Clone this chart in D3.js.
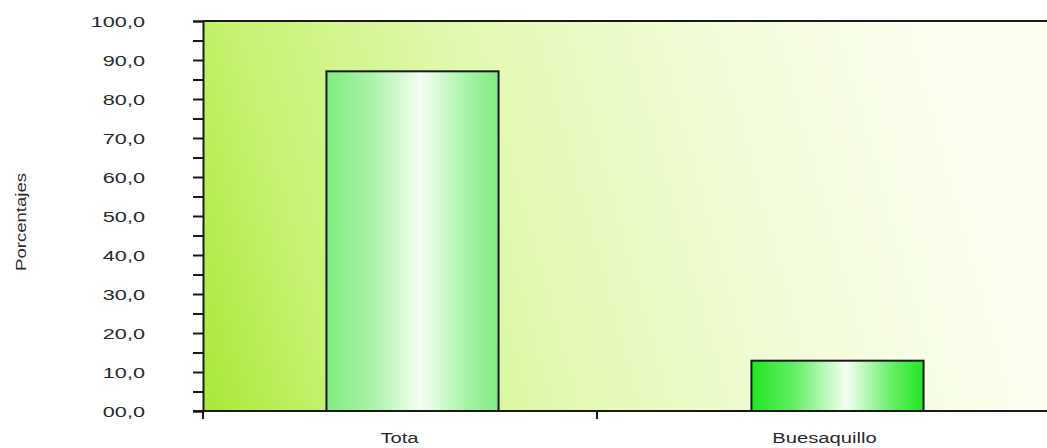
<!DOCTYPE html>
<html>
<head>
<meta charset="utf-8">
<script src="https://cdn.jsdelivr.net/npm/d3@7"></script>
<style>
  body { margin: 0; background: #fff; }
  text { font-family: "Liberation Sans", Arial, sans-serif; fill: #2a2a2a; }
</style>
</head>
<body>
<svg id="chart" width="1047" height="448"></svg>
<script>

var categories = ["Tota", "Buesaquillo"];
var values = [87.1, 12.9];
var yTicks = [0, 10, 20, 30, 40, 50, 60, 70, 80, 90, 100];
var yAxisTitle = "Porcentajes";

var svg = d3.select("#chart");

var plotLeft = 203, plotTop = 21, plotBottom = 411, plotRight = 1050;

var y = d3.scaleLinear().domain([0, 100]).range([plotBottom, plotTop]);
var x = d3.scaleBand().domain(categories).range([200, plotRight]);

var defs = svg.append("defs");

// plot background: lime on the left fading to almost white
var bg = defs.append("linearGradient").attr("id", "bg")
	.attr("gradientUnits", "userSpaceOnUse")
	.attr("x1", plotLeft).attr("y1", 400)
	.attr("x2", 1000).attr("y2", 180);
bg.append("stop").attr("offset", "0%").attr("stop-color", "#aae838");
bg.append("stop").attr("offset", "15%").attr("stop-color", "#c6f270");
bg.append("stop").attr("offset", "42%").attr("stop-color", "#e2f9b2");
bg.append("stop").attr("offset", "72%").attr("stop-color", "#f3fcda");
bg.append("stop").attr("offset", "100%").attr("stop-color", "#fbfff2");

// one gradient per bar
var barColors = ["#80ec80", "#22e622"];
barColors.forEach(function (c, i) {
	var g = defs.append("linearGradient").attr("id", "bar" + i)
		.attr("x1", "0%").attr("x2", "100%").attr("y1", "0%").attr("y2", "0%");
	g.append("stop").attr("offset", "0%").attr("stop-color", c);
	g.append("stop").attr("offset", "25%").attr("stop-color", d3.interpolateRgb(c, "#fff")(0.3));
	g.append("stop").attr("offset", "55%").attr("stop-color", "#f4fff2");
	g.append("stop").attr("offset", "82%").attr("stop-color", d3.interpolateRgb(c, "#fff")(0.3));
	g.append("stop").attr("offset", "100%").attr("stop-color", c);
});

svg.append("rect")
	.attr("x", plotLeft).attr("y", plotTop)
	.attr("width", 1047 - plotLeft).attr("height", plotBottom - plotTop)
	.attr("fill", "url(#bg)");

// bars
var barW = x.bandwidth() * 0.405;

svg.selectAll(".bar")
	.data(values)
	.enter().append("rect")
	.attr("class", "bar")
	.attr("x", function (d, i) { return x(categories[i]) + x.bandwidth() / 2 - barW / 2; })
	.attr("y", function (d) { return y(d); })
	.attr("width", barW)
	.attr("height", function (d) { return plotBottom - y(d); })
	.attr("fill", function (d, i) { return "url(#bar" + i + ")"; })
	.attr("stroke", "#1a1a1a")
	.attr("stroke-width", 2);

// top border
svg.append("line")
	.attr("x1", plotLeft).attr("x2", 1047)
	.attr("y1", plotTop).attr("y2", plotTop)
	.attr("stroke", "#1a1a1a").attr("stroke-width", 2);

// y axis
var yAxis = d3.axisLeft(y)
	.tickValues(d3.range(0, 101, 5))
	.tickSize(10)
	.tickFormat("");

var gy = svg.append("g").attr("transform", "translate(" + plotLeft + ",0)").call(yAxis);
gy.select(".domain").attr("stroke", "#1a1a1a").attr("stroke-width", 2);
gy.selectAll(".tick line").attr("stroke", "#1a1a1a").attr("stroke-width", 2);

var fmt = function (d) { return d3.format("04.1f")(d).replace(".", ","); };

svg.selectAll(".ylabel")
	.data(yTicks)
	.enter().append("text")
	.attr("class", "ylabel")
	.attr("text-anchor", "end")
	.attr("dy", "0.36em")
	.style("font-size", "15.5px")
	.attr("transform", function (d) { return "translate(145," + y(d) + ") scale(1.4,1)"; })
	.text(fmt);

// x axis
var xAxis = d3.axisBottom(x).tickSize(0).tickFormat("");
var gx = svg.append("g").attr("transform", "translate(0," + plotBottom + ")").call(xAxis);
gx.select(".domain").attr("d", "M" + (plotLeft - 10) + ",0H1047").attr("stroke", "#1a1a1a").attr("stroke-width", 2);

// category dividers
var dividers = [plotLeft, x(categories[1]) - 28];
svg.selectAll(".xtick")
	.data(dividers)
	.enter().append("line")
	.attr("class", "xtick")
	.attr("x1", function (d) { return d; }).attr("x2", function (d) { return d; })
	.attr("y1", plotBottom).attr("y2", plotBottom + 8)
	.attr("stroke", "#1a1a1a").attr("stroke-width", 2);

svg.selectAll(".xlabel")
	.data(categories)
	.enter().append("text")
	.attr("class", "xlabel")
	.attr("text-anchor", "middle")
	.style("font-size", "15px")
	.attr("transform", function (d) { return "translate(" + (x(d) + x.bandwidth() / 2 - 13) + ",443) scale(1.35,1)"; })
	.text(function (d) { return d; });

svg.append("text")
	.attr("text-anchor", "middle")
	.style("font-size", "14px")
	.attr("transform", "translate(26,222) rotate(-90)")
	.attr("textLength", 98)
	.attr("lengthAdjust", "spacingAndGlyphs")
	.text(yAxisTitle);

</script>
</body>
</html>
